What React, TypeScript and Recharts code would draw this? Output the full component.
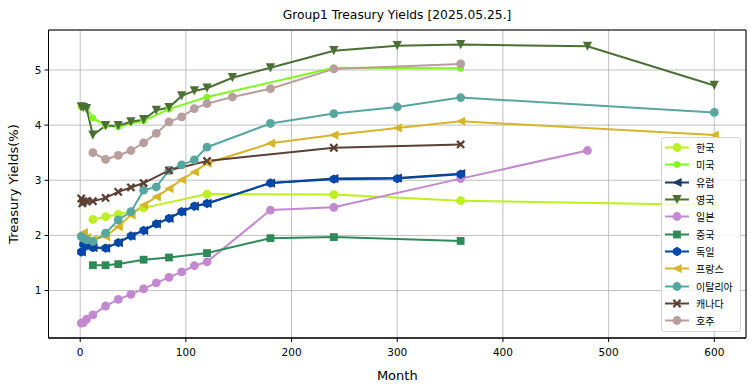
import { CartesianGrid, Line, LineChart, ReferenceArea, XAxis, YAxis } from "recharts";

// maturities in months and yields in %
const krMonths = [12, 24, 36, 60, 120, 240, 360, 600];
const krYields = [2.29, 2.34, 2.38, 2.5, 2.75, 2.74, 2.63, 2.55];

const usMonths = [1, 2, 3, 6, 12, 24, 36, 60, 84, 120, 240, 360];
const usYields = [4.33, 4.33, 4.35, 4.32, 4.13, 3.99, 3.97, 4.08, 4.29, 4.51, 5.04, 5.03];

const euMonths = [1, 3, 6, 12, 24, 36, 48, 60, 72, 84, 96, 108, 120, 180, 240, 300, 360];
const euYields = [1.7, 1.84, 1.81, 1.78, 1.77, 1.87, 1.99, 2.09, 2.21, 2.31, 2.43, 2.53, 2.58, 2.95, 3.03, 3.04, 3.12];

const ukMonths = [1, 3, 6, 12, 24, 36, 48, 60, 72, 84, 96, 108, 120, 144, 180, 240, 300, 360, 480, 600];
const ukYields = [4.33, 4.32, 4.3, 3.82, 3.99, 3.99, 4.06, 4.1, 4.27, 4.32, 4.53, 4.62, 4.67, 4.86, 5.04, 5.35, 5.44, 5.46, 5.43, 4.72];

const jpMonths = [1, 3, 6, 12, 24, 36, 48, 60, 72, 84, 96, 108, 120, 180, 240, 360, 480];
const jpYields = [0.41, 0.42, 0.48, 0.56, 0.72, 0.84, 0.93, 1.03, 1.14, 1.24, 1.34, 1.45, 1.52, 2.46, 2.51, 3.03, 3.54];

const cnMonths = [12, 24, 36, 60, 84, 120, 180, 240, 360];
const cnYields = [1.46, 1.46, 1.48, 1.56, 1.6, 1.68, 1.95, 1.97, 1.9];

const deMonths = [1, 3, 6, 12, 24, 36, 48, 60, 72, 84, 96, 108, 120, 180, 240, 300, 360];
const deYields = [1.7, 1.84, 1.81, 1.78, 1.77, 1.87, 1.99, 2.09, 2.21, 2.31, 2.43, 2.53, 2.58, 2.95, 3.02, 3.03, 3.11];

const frMonths = [1, 3, 6, 12, 24, 36, 48, 60, 72, 84, 96, 108, 120, 180, 240, 300, 360, 600];
const frYields = [2.03, 2.05, 1.96, 1.93, 1.98, 2.16, 2.37, 2.55, 2.7, 2.85, 3.01, 3.15, 3.31, 3.67, 3.82, 3.95, 4.07, 3.82];

const itMonths = [1, 3, 6, 12, 24, 36, 48, 60, 72, 84, 96, 108, 120, 180, 240, 300, 360, 600];
const itYields = [1.98, 1.95, 1.92, 1.89, 2.04, 2.28, 2.43, 2.82, 2.88, 3.18, 3.28, 3.37, 3.6, 4.03, 4.21, 4.33, 4.5, 4.23];

const caMonths = [1, 2, 3, 6, 12, 24, 36, 48, 60, 84, 120, 240, 360];
const caYields = [2.67, 2.58, 2.62, 2.62, 2.62, 2.68, 2.79, 2.87, 2.95, 3.18, 3.35, 3.59, 3.65];

const auMonths = [12, 24, 36, 48, 60, 72, 84, 96, 108, 120, 144, 180, 240, 360];
const auYields = [3.5, 3.38, 3.45, 3.54, 3.68, 3.85, 4.06, 4.15, 4.3, 4.39, 4.51, 4.66, 5.02, 5.11];

const xTicks = [0, 100, 200, 300, 400, 500, 600];
const yTicks = [1, 2, 3, 4, 5];

type Shape = "circle" | "small" | "triLeft" | "triDown" | "square" | "hex" | "x";

const series: { name: string; color: string; shape: Shape; months: number[]; yields: number[] }[] = [
  { name: "한국", color: "#bcf01e", shape: "circle", months: krMonths, yields: krYields },
  { name: "미국", color: "#80f820", shape: "small", months: usMonths, yields: usYields },
  { name: "유럽", color: "#1f3b60", shape: "triLeft", months: euMonths, yields: euYields },
  { name: "영국", color: "#4a7035", shape: "triDown", months: ukMonths, yields: ukYields },
  { name: "일본", color: "#c288d0", shape: "circle", months: jpMonths, yields: jpYields },
  { name: "중국", color: "#2e8b57", shape: "square", months: cnMonths, yields: cnYields },
  { name: "독일", color: "#0047ab", shape: "hex", months: deMonths, yields: deYields },
  { name: "프랑스", color: "#d6b52a", shape: "triLeft", months: frMonths, yields: frYields },
  { name: "이탈리아", color: "#58a6a0", shape: "circle", months: itMonths, yields: itYields },
  { name: "캐나다", color: "#5c4033", shape: "x", months: caMonths, yields: caYields },
  { name: "호주", color: "#b89e9c", shape: "circle", months: auMonths, yields: auYields },
];

function poly(cx: number, cy: number, r: number, n: number, rot: number) {
  const pts: string[] = [];
  for (let i = 0; i < n; i++) {
    const a = rot + (i * 2 * Math.PI) / n;
    pts.push(`${cx + r * Math.cos(a)},${cy + r * Math.sin(a)}`);
  }
  return pts.join(" ");
}

function Marker({ shape, cx, cy, color }: { shape: Shape; cx: number; cy: number; color: string }) {
  if (cx == null || cy == null) return null;
  switch (shape) {
    case "circle":
      return <circle cx={cx} cy={cy} r={4.4} fill={color} />;
    case "small":
      return <polygon points={poly(cx, cy, 3.6, 8, Math.PI / 8)} fill={color} />;
    case "triDown":
      return <polygon points={`${cx - 4.6},${cy - 4.6} ${cx + 4.6},${cy - 4.6} ${cx},${cy + 4.6}`} fill={color} />;
    case "triLeft":
      return <polygon points={`${cx - 4.6},${cy} ${cx + 4.6},${cy - 4.6} ${cx + 4.6},${cy + 4.6}`} fill={color} />;
    case "square":
      return <rect x={cx - 3.9} y={cy - 3.9} width={7.8} height={7.8} fill={color} />;
    case "hex":
      return <polygon points={poly(cx, cy, 4.7, 6, -Math.PI / 2)} fill={color} />;
    case "x": {
      const a = 4.4;
      const w = 1.6;
      const d = `M${cx - a},${cy - a + w} L${cx - a + w},${cy - a} L${cx},${cy - w} L${cx + a - w},${cy - a} L${cx + a},${cy - a + w} L${cx + w},${cy} L${cx + a},${cy + a - w} L${cx + a - w},${cy + a} L${cx},${cy + w} L${cx - a + w},${cy + a} L${cx - a},${cy + a - w} L${cx - w},${cy} Z`;
      return <path d={d} fill={color} />;
    }
  }
  return null;
}

const font = "'DejaVu Sans', sans-serif";

export default function App() {
  return (
    <div style={{ position: "absolute", left: 0, top: 0, width: 755, height: 391, background: "#fff" }}>
      <div
        style={{
          position: "absolute",
          left: 48,
          width: 698,
          top: 8,
          textAlign: "center",
          fontFamily: font,
          fontSize: 12.3,
          color: "#000",
        }}
      >
        Group1 Treasury Yields [2025.05.25.]
      </div>
      <LineChart width={755} height={391} margin={{ top: 30, right: 9, left: 0, bottom: 0 }}>
        <CartesianGrid stroke="#b0b0b0" strokeWidth={0.8} />
        <XAxis
          dataKey="m"
          type="number"
          domain={[-30, 630]}
          ticks={xTicks}
          allowDataOverflow
          height={53}
          tickSize={4}
          tickMargin={7}
          stroke="#000"
          tick={{ fontSize: 10.5, fill: "#000", fontFamily: font }}
          label={{ value: "Month", position: "insideBottom", offset: 11, fontSize: 13, fill: "#000", fontFamily: font }}
        />
        <YAxis
          type="number"
          domain={[0.14, 5.725]}
          ticks={yTicks}
          allowDataOverflow
          width={48.5}
          tickSize={4}
          tickMargin={3}
          stroke="#000"
          tick={{ fontSize: 10.5, fill: "#000", fontFamily: font }}
          label={{
            value: "Treasury Yields(%)",
            angle: -90,
            position: "insideLeft",
            offset: 13,
            style: { textAnchor: "middle" },
            fontSize: 13,
            fill: "#000",
            fontFamily: font,
          }}
        />
        <ReferenceArea x1={-30} x2={630} y1={0.14} y2={5.725} fill="none" stroke="#000" strokeWidth={1} ifOverflow="extendDomain" />
        {series.map((s) => (
          <Line
            key={s.name}
            name={s.name}
            data={s.months.map((m, i) => ({ m, y: s.yields[i] }))}
            dataKey="y"
            type="linear"
            stroke={s.color}
            strokeWidth={2}
            isAnimationActive={false}
            activeDot={false}
            dot={(p: any) => <Marker key={`${s.name}-${p.index}`} shape={s.shape} cx={p.cx} cy={p.cy} color={s.color} />}
          />
        ))}
      </LineChart>
      <div
        style={{
          position: "absolute",
          left: 661,
          top: 137,
          width: 80,
          height: 195,
          border: "1px solid #d4d4d4",
          borderRadius: 3,
          background: "rgba(255,255,255,0.8)",
          boxSizing: "border-box",
          paddingTop: 1,
        }}
      >
        {series.map((s) => (
          <div key={s.name} style={{ display: "flex", alignItems: "center", height: 17.3 }}>
            <svg width={34} height={17} style={{ flex: "none" }}>
              <line x1={3} x2={27} y1={8.5} y2={8.5} stroke={s.color} strokeWidth={2} />
              <Marker shape={s.shape} cx={15} cy={8.5} color={s.color} />
            </svg>
            <span style={{ fontFamily: "'Noto Sans CJK KR', sans-serif", fontSize: 10, color: "#000", lineHeight: "17px" }}>
              {s.name}
            </span>
          </div>
        ))}
      </div>
    </div>
  );
}
